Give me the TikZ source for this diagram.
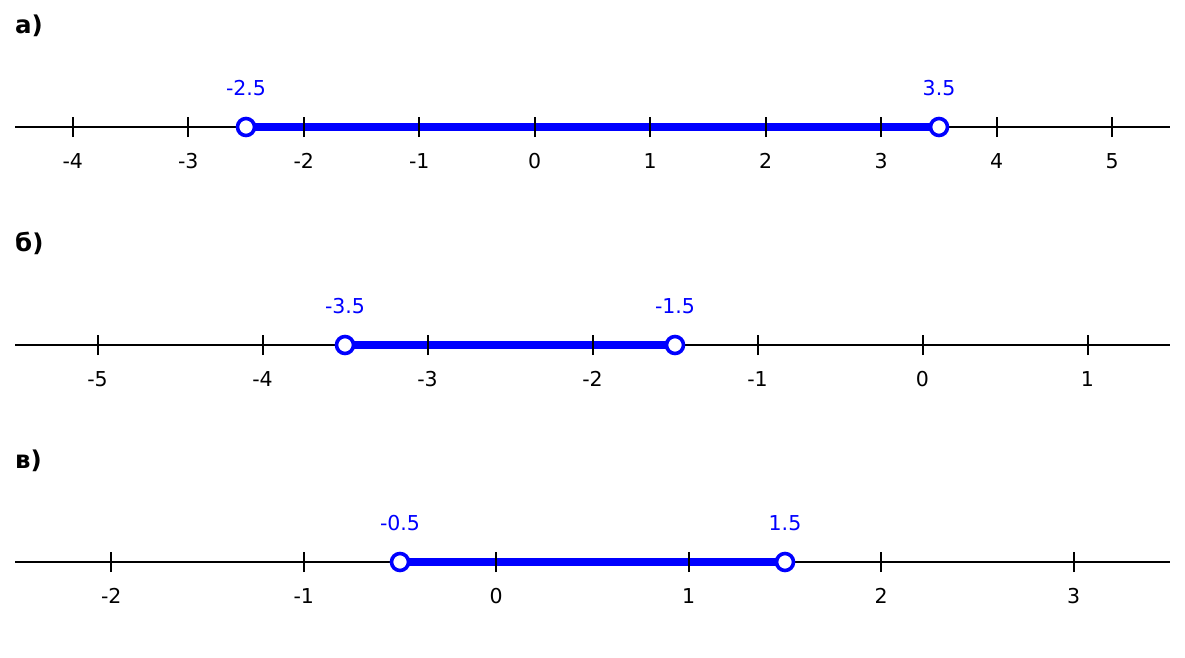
\documentclass[tikz,border=0pt]{standalone}
\usepackage{fontspec}
\setmainfont{DejaVu Sans}
\usetikzlibrary{backgrounds}
\definecolor{segblue}{RGB}{0,0,255}
\tikzset{
  axisline/.style={line width=2pt, black},
  tickmark/.style={line width=2pt, black},
  seg/.style={line width=8pt, segblue},
  endpt/.style={circle, draw=segblue, fill=white, line width=3.6pt, minimum size=17pt, inner sep=0pt},
  ticklbl/.style={font=\fontsize{20.5}{20.5}\selectfont, inner sep=0pt},
  vallbl/.style={text=segblue, font=\fontsize{20.5}{20.5}\selectfont, inner sep=0pt},
  parlbl/.style={font=\bfseries\fontsize{24.5}{24.5}\selectfont, anchor=west, inner sep=0pt}
}
\begin{document}
\begin{tikzpicture}[x=1pt,y=-1pt]
\useasboundingbox (0,0) rectangle (1185,658);
% ---------- row a ----------
\node[parlbl] (la) at (15,26) {а)};
\coordinate (aL) at (15,127);
\coordinate (aR) at (1170,127);
\begin{scope}[on background layer]
  \draw[axisline] (aL) -- (aR);
\end{scope}
\foreach \v in {-4,...,5} {
  \pgfmathsetmacro\xx{15+(\v+4.5)*115.5}
  \coordinate (at\v) at (\xx,127);
  \draw[tickmark] ([yshift=-10pt]at\v) -- ([yshift=10pt]at\v);
  \node[ticklbl] (an\v) at (\xx,161) {\v};
}
\node[endpt] (ap) at (246,127) {};
\node[endpt] (aq) at (939,127) {};
\node[vallbl] (apl) at (246,88) {-2.5};
\node[vallbl] (aql) at (939,88) {3.5};
\begin{scope}[on background layer]
  \draw[seg] (ap.center) -- (aq.center);
\end{scope}
% ---------- row b ----------
\node[parlbl] (lb) at (15,243) {б)};
\coordinate (bL) at (15,345);
\coordinate (bR) at (1170,345);
\begin{scope}[on background layer]
  \draw[axisline] (bL) -- (bR);
\end{scope}
\foreach \v in {-5,...,1} {
  \pgfmathsetmacro\xx{15+(\v+5.5)*165}
  \coordinate (bt\v) at (\xx,345);
  \draw[tickmark] ([yshift=-10pt]bt\v) -- ([yshift=10pt]bt\v);
  \node[ticklbl] (bn\v) at (\xx,379) {\v};
}
\node[endpt] (bp) at (345,345) {};
\node[endpt] (bq) at (675,345) {};
\node[vallbl] (bpl) at (345,306) {-3.5};
\node[vallbl] (bql) at (675,306) {-1.5};
\begin{scope}[on background layer]
  \draw[seg] (bp.center) -- (bq.center);
\end{scope}
% ---------- row c ----------
\node[parlbl] (lc) at (15,461) {в)};
\coordinate (cL) at (15,562);
\coordinate (cR) at (1170,562);
\begin{scope}[on background layer]
  \draw[axisline] (cL) -- (cR);
\end{scope}
\foreach \v in {-2,...,3} {
  \pgfmathsetmacro\xx{15+(\v+2.5)*192.5}
  \coordinate (ct\v) at (\xx,562);
  \draw[tickmark] ([yshift=-10pt]ct\v) -- ([yshift=10pt]ct\v);
  \node[ticklbl] (cn\v) at (\xx,596) {\v};
}
\node[endpt] (cp) at (400,562) {};
\node[endpt] (cq) at (785,562) {};
\node[vallbl] (cpl) at (400,523) {-0.5};
\node[vallbl] (cql) at (785,523) {1.5};
\begin{scope}[on background layer]
  \draw[seg] (cp.center) -- (cq.center);
\end{scope}
\end{tikzpicture}
\end{document}
